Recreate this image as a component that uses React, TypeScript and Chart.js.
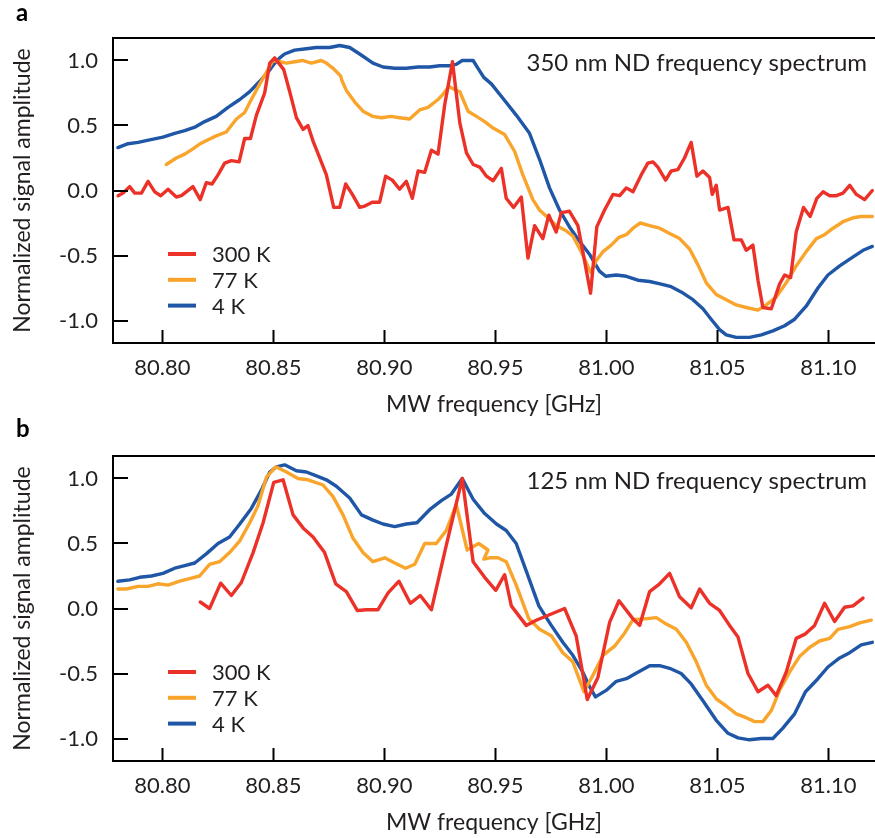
import React, { useEffect, useRef } from 'react';
import { Chart, registerables } from 'chart.js';

Chart.register(...registerables);

// ---------- data ----------
const SERIES_LABELS = ['300 K', '77 K', '4 K'];
const SERIES_COLORS = ['#ec3228', '#f9a42a', '#1f56a6'];
const X_TICKS = [80.8, 80.85, 80.9, 80.95, 81.0, 81.05, 81.1];
const Y_TICKS = [-1.0, -0.5, 0.0, 0.5, 1.0];
const X_MIN = 80.7778;
const X_MAX = 81.121;
const Y_MIN = -1.173;
const Y_MAX = 1.173;
const TITLE_A = '350 nm ND frequency spectrum';
const TITLE_B = '125 nm ND frequency spectrum';
const X_TITLE = 'MW frequency [GHz]';
const Y_TITLE = 'Normalized signal amplitude';

// panel a (350 nm)
const A_300K: [number, number][] = [
  [80.7801, -0.04], [80.7823, -0.02], [80.7853, 0.03], [80.7876, -0.02], [80.7906, -0.02], [80.7936, 0.07],
  [80.7966, -0.01], [80.7993, -0.04], [80.8026, 0.01], [80.8063, -0.05], [80.8086, -0.04], [80.8138, 0.03],
  [80.8171, -0.07], [80.8198, 0.06], [80.8224, 0.05], [80.8251, 0.12], [80.8281, 0.21], [80.8311, 0.23],
  [80.8346, 0.22], [80.8371, 0.4], [80.8397, 0.4], [80.8424, 0.58], [80.8461, 0.75], [80.8484, 0.98],
  [80.8506, 1.02], [80.8529, 0.97], [80.8547, 0.93], [80.8574, 0.76], [80.8604, 0.56], [80.8634, 0.47],
  [80.8656, 0.5], [80.8679, 0.38], [80.8709, 0.25], [80.8739, 0.12], [80.8772, -0.13], [80.8799, -0.13],
  [80.8826, 0.05], [80.8856, -0.03], [80.8889, -0.13], [80.8912, -0.12], [80.8946, -0.09], [80.8979, -0.09],
  [80.9006, 0.11], [80.9036, 0.08], [80.9069, 0.01], [80.9099, 0.07], [80.9126, -0.06], [80.9152, 0.15],
  [80.9182, 0.14], [80.9212, 0.31], [80.9242, 0.28], [80.9272, 0.66], [80.9307, 0.99], [80.934, 0.52],
  [80.937, 0.29], [80.94, 0.2], [80.943, 0.18], [80.946, 0.11], [80.949, 0.075], [80.9527, 0.17],
  [80.9549, -0.06], [80.9582, -0.13], [80.9617, -0.05], [80.9647, -0.52], [80.9677, -0.27], [80.9714, -0.37],
  [80.9741, -0.19], [80.9774, -0.32], [80.9797, -0.17], [80.9834, -0.16], [80.9872, -0.27], [80.9894, -0.47],
  [80.9929, -0.79], [80.9957, -0.28], [80.9992, -0.15], [81.003, -0.03], [81.006, -0.04], [81.009, 0.02],
  [81.012, -0.01], [81.0157, 0.12], [81.0187, 0.21], [81.021, 0.22], [81.0232, 0.18], [81.0267, 0.08],
  [81.0292, 0.15], [81.0322, 0.16], [81.0352, 0.25], [81.0382, 0.37], [81.0408, 0.11], [81.0435, 0.15],
  [81.0465, 0.1], [81.0477, -0.03], [81.0495, 0.04], [81.051, -0.15], [81.0548, -0.13], [81.0575, -0.38],
  [81.0608, -0.38], [81.063, -0.46], [81.066, -0.42], [81.0683, -0.69], [81.0705, -0.9], [81.0743, -0.91],
  [81.078, -0.72], [81.0803, -0.65], [81.083, -0.67], [81.0855, -0.32], [81.0888, -0.13], [81.0918, -0.2],
  [81.0948, -0.06], [81.0976, -0.01], [81.1006, -0.04], [81.1036, -0.04], [81.1066, -0.02], [81.1096, 0.04],
  [81.1126, -0.03], [81.1163, -0.07], [81.1198, 0.0],
];

const A_77K: [number, number][] = [
  [80.8018, 0.2], [80.8063, 0.25], [80.8101, 0.28], [80.8138, 0.32], [80.8171, 0.36], [80.8206, 0.39],
  [80.8243, 0.42], [80.8288, 0.45], [80.8311, 0.5], [80.8334, 0.55], [80.8371, 0.6], [80.8401, 0.7],
  [80.8439, 0.82], [80.8476, 0.93], [80.8499, 1.0], [80.8529, 0.99], [80.8559, 0.98], [80.8596, 0.99],
  [80.8631, 1.0], [80.8671, 0.98], [80.8716, 1.0], [80.8739, 0.98], [80.8769, 0.94], [80.8804, 0.88],
  [80.8808, 0.85], [80.8829, 0.77], [80.8867, 0.68], [80.8904, 0.61], [80.8949, 0.57], [80.8987, 0.56],
  [80.9029, 0.57], [80.9069, 0.56], [80.9114, 0.55], [80.9159, 0.62], [80.9197, 0.64], [80.9242, 0.7],
  [80.9264, 0.74], [80.9291, 0.8], [80.9312, 0.78], [80.934, 0.76], [80.9377, 0.61], [80.9415, 0.57],
  [80.9452, 0.53], [80.949, 0.48], [80.9542, 0.43], [80.9587, 0.3], [80.9624, 0.12], [80.9669, -0.07],
  [80.9699, -0.15], [80.9737, -0.21], [80.9774, -0.27], [80.9819, -0.31], [80.9849, -0.35], [80.9887, -0.47],
  [80.9929, -0.63], [80.9954, -0.54], [80.9985, -0.47], [81.0022, -0.42], [81.0057, -0.36], [81.009, -0.34],
  [81.012, -0.29], [81.0153, -0.25], [81.0195, -0.27], [81.024, -0.29], [81.0285, -0.33], [81.033, -0.37],
  [81.0375, -0.45], [81.0412, -0.57], [81.045, -0.71], [81.0495, -0.8], [81.054, -0.84], [81.0585, -0.88],
  [81.063, -0.9], [81.0683, -0.92], [81.072, -0.88], [81.0765, -0.82], [81.081, -0.71], [81.0855, -0.58],
  [81.09, -0.47], [81.0946, -0.37], [81.0983, -0.34], [81.1021, -0.29], [81.1066, -0.24], [81.1111, -0.21],
  [81.1148, -0.2], [81.1198, -0.2],
];

const A_4K: [number, number][] = [
  [80.78, 0.33], [80.7846, 0.36], [80.7891, 0.37], [80.7943, 0.39], [80.8003, 0.41], [80.8056, 0.44],
  [80.8101, 0.46], [80.815, 0.49], [80.8191, 0.53], [80.8243, 0.57], [80.8296, 0.64], [80.8349, 0.7],
  [80.8394, 0.76], [80.8439, 0.84], [80.8476, 0.91], [80.8502, 0.97], [80.8529, 1.02], [80.8551, 1.05],
  [80.8596, 1.08], [80.8649, 1.09], [80.8694, 1.1], [80.8754, 1.1], [80.8799, 1.115], [80.8844, 1.1],
  [80.8889, 1.05], [80.8949, 0.98], [80.8994, 0.95], [80.9047, 0.94], [80.9099, 0.94], [80.9152, 0.95],
  [80.9204, 0.95], [80.9249, 0.96], [80.9294, 0.96], [80.9324, 0.97], [80.9351, 1.0], [80.94, 1.0],
  [80.9422, 0.94], [80.9448, 0.87], [80.9482, 0.82], [80.9534, 0.71], [80.9594, 0.58], [80.9654, 0.44],
  [80.9699, 0.24], [80.9744, 0.02], [80.9789, -0.15], [80.9834, -0.28], [80.9879, -0.39], [80.9924, -0.49],
  [80.9969, -0.62], [80.9997, -0.66], [81.0045, -0.65], [81.009, -0.66], [81.0142, -0.69], [81.0195, -0.7],
  [81.0247, -0.72], [81.0292, -0.74], [81.0337, -0.78], [81.039, -0.84], [81.0435, -0.91], [81.0472, -0.99],
  [81.051, -1.07], [81.054, -1.11], [81.0585, -1.13], [81.0645, -1.13], [81.0698, -1.11], [81.075, -1.08],
  [81.0803, -1.04], [81.0848, -0.99], [81.09, -0.89], [81.0953, -0.75], [81.0998, -0.65], [81.1051, -0.58],
  [81.1103, -0.52], [81.1156, -0.46], [81.1198, -0.43],
];

// panel b (125 nm)
const B_300K: [number, number][] = [
  [80.8171, 0.05], [80.8213, 0.0], [80.8263, 0.195], [80.8311, 0.1], [80.8356, 0.2], [80.8409, 0.43],
  [80.8454, 0.66], [80.8502, 0.97], [80.8544, 0.99], [80.8589, 0.72], [80.8634, 0.62], [80.8679, 0.55],
  [80.8731, 0.43], [80.8781, 0.19], [80.8829, 0.13], [80.8878, -0.015], [80.8919, -0.01], [80.8971, -0.01],
  [80.9017, 0.12], [80.9066, 0.21], [80.9117, 0.04], [80.9162, 0.1], [80.9212, -0.01], [80.9279, 0.485],
  [80.9351, 1.0], [80.94, 0.36], [80.9452, 0.24], [80.9502, 0.14], [80.9542, 0.26], [80.9572, 0.02],
  [80.9639, -0.13], [80.9684, -0.09], [80.9812, 0.0], [80.9864, -0.21], [80.9914, -0.7], [80.9962, -0.53],
  [81.0015, -0.105], [81.0057, 0.06], [81.012, -0.08], [81.015, -0.13], [81.0195, 0.13], [81.024, 0.19],
  [81.0285, 0.27], [81.033, 0.09], [81.0382, 0.005], [81.042, 0.15], [81.0465, 0.04], [81.051, -0.015],
  [81.0555, -0.13], [81.0593, -0.22], [81.0638, -0.5], [81.0683, -0.64], [81.0728, -0.59], [81.0765, -0.67],
  [81.081, -0.49], [81.0855, -0.23], [81.0897, -0.195], [81.0938, -0.13], [81.0983, 0.04], [81.1028, -0.1],
  [81.1073, 0.01], [81.1111, 0.02], [81.1156, 0.08],
];

const B_77K: [number, number][] = [
  [80.78, 0.15], [80.7838, 0.15], [80.7891, 0.17], [80.7936, 0.17], [80.7981, 0.19], [80.8026, 0.18],
  [80.8078, 0.21], [80.8123, 0.23], [80.8168, 0.25], [80.8213, 0.34], [80.8258, 0.36], [80.8303, 0.43],
  [80.8349, 0.52], [80.8394, 0.66], [80.8431, 0.79], [80.8469, 1.01], [80.8511, 1.09], [80.8559, 1.05],
  [80.8611, 1.0], [80.8656, 0.99], [80.8724, 0.95], [80.8769, 0.86], [80.8814, 0.72], [80.8859, 0.54],
  [80.8904, 0.43], [80.8949, 0.36], [80.9002, 0.39], [80.9047, 0.35], [80.9096, 0.31], [80.9137, 0.34],
  [80.9182, 0.5], [80.9234, 0.5], [80.9279, 0.6], [80.9324, 0.8], [80.9373, 0.45], [80.9425, 0.5],
  [80.9467, 0.45], [80.9448, 0.38], [80.9475, 0.39], [80.9512, 0.39], [80.9549, 0.36], [80.9594, 0.18],
  [80.9651, -0.08], [80.9699, -0.16], [80.9752, -0.21], [80.9804, -0.34], [80.9849, -0.41], [80.9899, -0.64],
  [80.9939, -0.515], [80.9985, -0.36], [81.0037, -0.29], [81.0082, -0.19], [81.012, -0.085], [81.0172, -0.08],
  [81.0225, -0.07], [81.027, -0.12], [81.0315, -0.16], [81.036, -0.26], [81.0405, -0.41], [81.045, -0.59],
  [81.0495, -0.695], [81.054, -0.75], [81.0585, -0.81], [81.063, -0.84], [81.0668, -0.87], [81.0705, -0.87],
  [81.0743, -0.785], [81.078, -0.63], [81.0825, -0.49], [81.087, -0.37], [81.0915, -0.3], [81.096, -0.25],
  [81.1006, -0.23], [81.1043, -0.16], [81.1096, -0.14], [81.1141, -0.11], [81.1193, -0.09],
];

const B_4K: [number, number][] = [
  [80.78, 0.21], [80.7853, 0.22], [80.7898, 0.24], [80.7951, 0.25], [80.8003, 0.27], [80.8056, 0.31],
  [80.8101, 0.33], [80.8146, 0.35], [80.8198, 0.42], [80.8251, 0.5], [80.8303, 0.55], [80.8349, 0.65],
  [80.8401, 0.77], [80.8446, 0.91], [80.8484, 1.05], [80.8514, 1.09], [80.8551, 1.105], [80.8604, 1.06],
  [80.8649, 1.05], [80.8694, 1.02], [80.8739, 0.99], [80.8784, 0.94], [80.8844, 0.85], [80.8897, 0.72],
  [80.8949, 0.68], [80.8994, 0.65], [80.9047, 0.63], [80.9099, 0.65], [80.9147, 0.66], [80.9204, 0.76],
  [80.9257, 0.83], [80.9302, 0.88], [80.9351, 1.0], [80.94, 0.84], [80.9452, 0.73], [80.9505, 0.65],
  [80.9549, 0.6], [80.9594, 0.5], [80.9639, 0.29], [80.9696, 0.02], [80.9752, -0.13], [80.9804, -0.26],
  [80.9849, -0.36], [80.9894, -0.49], [80.9924, -0.6], [80.9951, -0.68], [80.9999, -0.63], [81.0045, -0.56],
  [81.009, -0.54], [81.0142, -0.49], [81.0195, -0.44], [81.024, -0.44], [81.0285, -0.46], [81.0337, -0.5],
  [81.0382, -0.58], [81.0435, -0.71], [81.0495, -0.86], [81.0548, -0.96], [81.0593, -0.995], [81.0645, -1.01],
  [81.0698, -1.0], [81.075, -1.0], [81.0795, -0.92], [81.0848, -0.81], [81.0897, -0.64], [81.0953, -0.54],
  [81.0998, -0.45], [81.1051, -0.38], [81.1096, -0.34], [81.1148, -0.28], [81.1198, -0.26],
];

// ---------- style ----------
const FONT = 'Lato, "Open Sans", sans-serif';
const TEXT = '#231f20';
const TICK_SIZE = 22;
const CANVAS_W = 875;
const CANVAS_H = 420;

function overlayPlugin(title: string, letter: string, letterY: number) {
  return {
    id: 'overlay',
    afterDraw(chart: any) {
      const { ctx, chartArea } = chart;
      const { left, right, top, bottom } = chartArea;
      const xs = chart.scales.x;
      const ys = chart.scales.y;
      ctx.save();
      // top frame line + inward ticks
      ctx.strokeStyle = '#000';
      ctx.lineWidth = 2;
      ctx.beginPath();
      ctx.moveTo(left - 1, top);
      ctx.lineTo(right, top);
      for (const v of X_TICKS) {
        const px = Math.round(xs.getPixelForValue(v)) + 0.5;
        ctx.moveTo(px, bottom);
        ctx.lineTo(px, bottom - 13);
      }
      for (const v of Y_TICKS) {
        const py = Math.round(ys.getPixelForValue(v));
        ctx.moveTo(left, py);
        ctx.lineTo(left + 15, py);
      }
      ctx.stroke();

      // annotation
      ctx.fillStyle = TEXT;
      ctx.font = `24px ${FONT}`;
      ctx.textAlign = 'right';
      ctx.textBaseline = 'alphabetic';
      ctx.fillText(title, right - 8, top + 32.5);

      // legend
      ctx.textAlign = 'left';
      ctx.font = `${TICK_SIZE}px ${FONT}`;
      chart.data.datasets.forEach((ds: any, i: number) => {
        const y = top + 216 + i * 25.8;
        ctx.strokeStyle = ds.borderColor;
        ctx.lineWidth = 4;
        ctx.beginPath();
        ctx.moveTo(left + 55, y);
        ctx.lineTo(left + 83, y);
        ctx.stroke();
        ctx.fillStyle = TEXT;
        ctx.fillText(ds.label, left + 99, y + 8);
      });

      // panel letter
      ctx.font = `bold 24px ${FONT}`;
      ctx.fillStyle = '#000';
      ctx.fillText(letter, 16, letterY);
      ctx.restore();
    },
  };
}

function makeConfig(series: [number, number][][], title: string, letter: string, letterY: number): any {
  return {
    type: 'line',
    data: {
      datasets: series.map((pts, i) => ({
        label: SERIES_LABELS[i],
        data: pts.map(([x, y]) => ({ x, y })),
        borderColor: SERIES_COLORS[i],
        backgroundColor: SERIES_COLORS[i],
        borderWidth: 3.4,
        pointRadius: 0,
        tension: 0,
        fill: false,
        borderJoinStyle: 'round',
        borderCapStyle: 'round',
      })),
    },
    options: {
      animation: false,
      responsive: false,
      devicePixelRatio: 1,
      layout: { padding: { top: 38, left: 0, right: 0, bottom: 0 } },
      plugins: { legend: { display: false }, tooltip: { enabled: false } },
      scales: {
        x: {
          type: 'linear',
          bounds: 'data',
          min: X_MIN,
          max: X_MAX,
          afterBuildTicks: (s: any) => {
            s.ticks = X_TICKS.map((v) => ({ value: v }));
          },
          afterFit: (s: any) => {
            s.height = 77;
          },
          grid: { display: false, drawTicks: false },
          border: { display: true, color: '#000', width: 2 },
          ticks: {
            padding: 12,
            autoSkip: false,
            maxRotation: 0,
            color: TEXT,
            font: { family: FONT, size: TICK_SIZE },
            callback: (v: any) => Number(v).toFixed(2),
          },
          title: {
            display: true,
            text: X_TITLE,
            color: TEXT,
            font: { family: FONT, size: 23 },
            padding: { top: 0, bottom: 2 },
          },
        },
        y: {
          type: 'linear',
          bounds: 'data',
          min: Y_MIN,
          max: Y_MAX,
          afterBuildTicks: (s: any) => {
            s.ticks = Y_TICKS.map((v) => ({ value: v }));
          },
          afterFit: (s: any) => {
            s.width = 113;
          },
          grid: { display: false, drawTicks: false },
          border: { display: true, color: '#000', width: 2 },
          ticks: {
            padding: 15,
            autoSkip: false,
            color: TEXT,
            font: { family: FONT, size: TICK_SIZE },
            callback: (v: any) => Number(v).toFixed(1),
          },
          title: {
            display: true,
            text: Y_TITLE,
            color: TEXT,
            font: { family: FONT, size: 23 },
            padding: { top: 9, bottom: 0 },
          },
        },
      },
    },
    plugins: [overlayPlugin(title, letter, letterY)],
  };
}

export default function App() {
  const refA = useRef<HTMLCanvasElement>(null);
  const refB = useRef<HTMLCanvasElement>(null);

  useEffect(() => {
    const a = new Chart(refA.current as HTMLCanvasElement, makeConfig([A_300K, A_77K, A_4K], TITLE_A, 'a', 21));
    const b = new Chart(refB.current as HTMLCanvasElement, makeConfig([B_300K, B_77K, B_4K], TITLE_B, 'b', 19));
    return () => {
      a.destroy();
      b.destroy();
    };
  }, []);

  return (
    <div style={{ position: 'absolute', left: 0, top: 0, width: CANVAS_W, height: 838, background: '#fff' }}>
      <canvas
        ref={refA}
        width={CANVAS_W}
        height={CANVAS_H}
        style={{ position: 'absolute', left: 0, top: 0, width: CANVAS_W, height: CANVAS_H }}
      />
      <canvas
        ref={refB}
        width={CANVAS_W}
        height={CANVAS_H}
        style={{ position: 'absolute', left: 0, top: 418, width: CANVAS_W, height: CANVAS_H }}
      />
    </div>
  );
}
